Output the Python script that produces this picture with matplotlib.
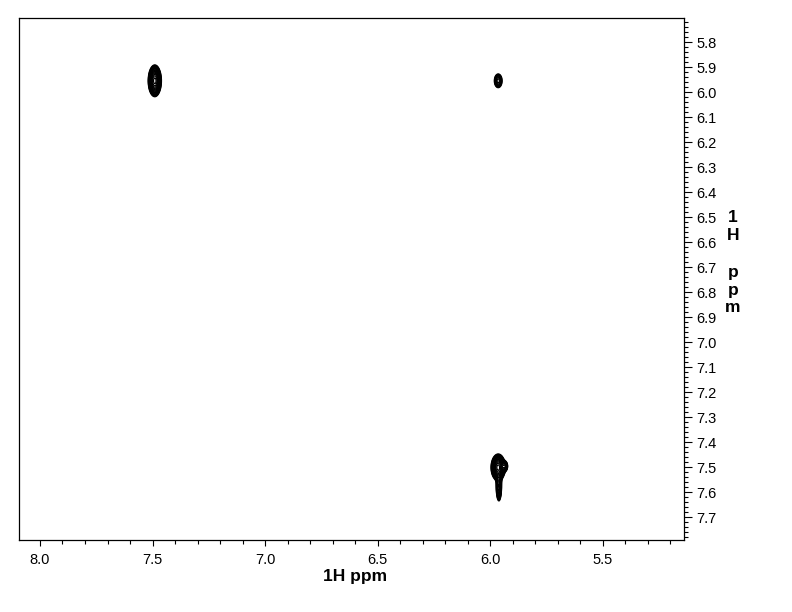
import numpy as np
import matplotlib
matplotlib.use("Agg")
import matplotlib.pyplot as plt
from matplotlib.ticker import MultipleLocator, FormatStrFormatter

plt.rcParams['font.family'] = ['Liberation Sans', 'DejaVu Sans']

# axis ranges (ppm)
x_range = (8.093, 5.14)
y_range = (7.79, 5.704)

# cross peaks: f2 (x) / f1 (y) positions, widths and relative heights
peak_x = [7.490, 5.965, 5.965, 5.962, 5.935]
peak_y = [5.955, 5.955, 7.500, 7.575, 7.495]
peak_sx = [0.012, 0.010, 0.013, 0.006, 0.006]
peak_sy = [0.026, 0.016, 0.022, 0.030, 0.010]
peak_amp = [1.0, 0.22, 1.0, 0.35, 0.3]

x_ticks = [8.0, 7.5, 7.0, 6.5, 6.0, 5.5]
y_ticks = [5.8, 5.9, 6.0, 6.1, 6.2, 6.3, 6.4, 6.5, 6.6, 6.7, 6.8, 6.9,
           7.0, 7.1, 7.2, 7.3, 7.4, 7.5, 7.6, 7.7]

xs = np.linspace(x_range[1], x_range[0], 900)
ys = np.linspace(y_range[1], y_range[0], 900)
X, Y = np.meshgrid(xs, ys)
Z = np.zeros_like(X)
for px, py, sx, sy, a in zip(peak_x, peak_y, peak_sx, peak_sy, peak_amp):
    Z += a * np.exp(-((X - px) ** 2 / (2 * sx ** 2) + (Y - py) ** 2 / (2 * sy ** 2)))

fig = plt.figure(figsize=(7.92, 6.12), dpi=100)
ax = fig.add_axes([19 / 792, 1 - 540 / 612, 665 / 792, 522 / 612])

levels = np.geomspace(0.05, 0.9, 16)
ax.contour(X, Y, Z, levels=levels, colors='black', linewidths=0.9)

ax.set_xlim(*x_range)
ax.set_ylim(*y_range)

ax.set_xticks(x_ticks)
ax.xaxis.set_major_formatter(FormatStrFormatter('%.1f'))
ax.xaxis.set_minor_locator(MultipleLocator(0.1))
ax.set_yticks(y_ticks)
ax.yaxis.set_major_formatter(FormatStrFormatter('%.1f'))
ax.yaxis.set_minor_locator(MultipleLocator(0.02))
ax.yaxis.tick_right()

ax.tick_params(axis='x', which='major', direction='out', length=4, width=0.8,
               labelsize=10.5, pad=5, colors='black')
ax.tick_params(axis='x', which='minor', direction='out', length=3, width=0.8)
ax.tick_params(axis='y', which='major', direction='out', length=6, width=0.8,
               labelsize=10.5, pad=3)
ax.tick_params(axis='y', which='minor', direction='out', length=3, width=0.8)

for spine in ax.spines.values():
    spine.set_linewidth(0.9)

fig.text(355 / 792, 1 - 577 / 612, '1H ppm', ha='center', va='center',
         fontsize=12.5, fontweight='bold')
fig.text(733 / 792, 1 - 263 / 612, '1\nH\n\np\np\nm', ha='center', va='center',
         fontsize=12.5, fontweight='bold', linespacing=1.25)

fig.savefig('out.png', dpi=100)
